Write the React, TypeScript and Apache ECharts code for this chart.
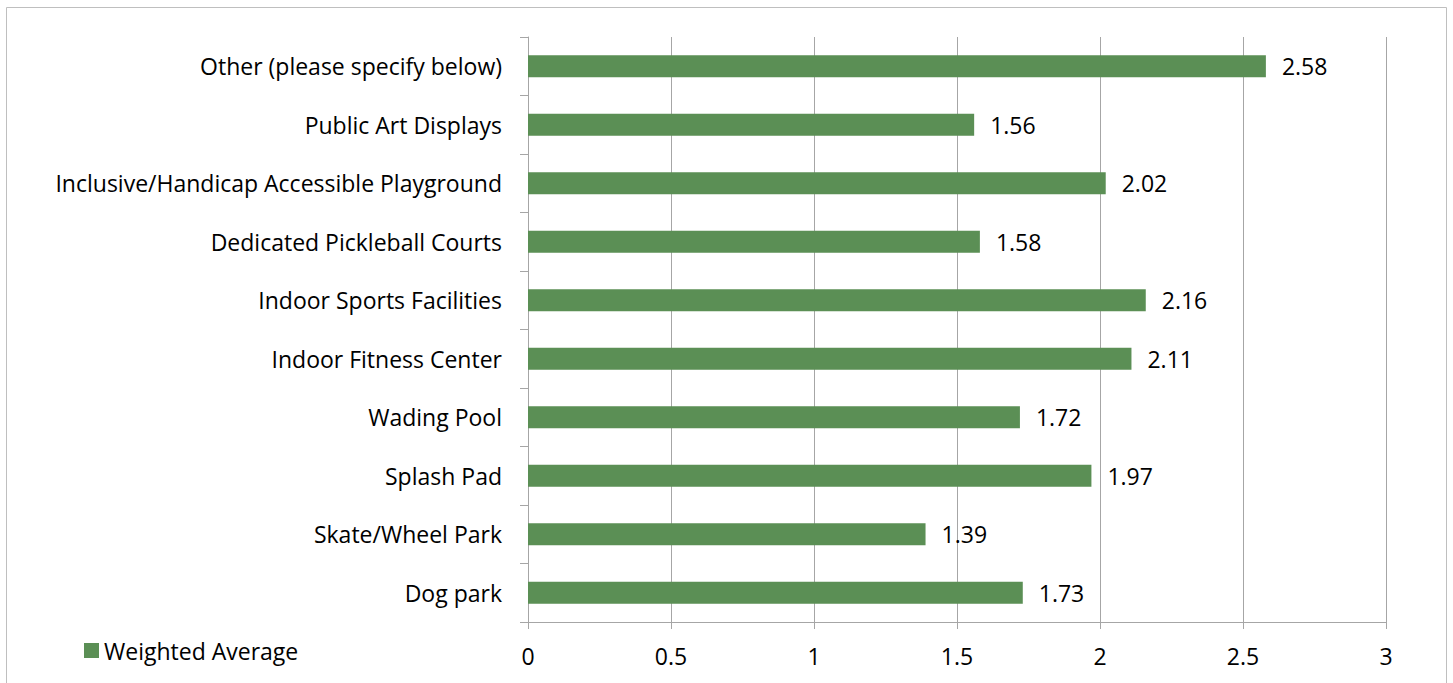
import React, { useEffect, useRef } from "react";
import * as echarts from "echarts";

const categories = [
  "Dog park",
  "Skate/Wheel Park",
  "Splash Pad",
  "Wading Pool",
  "Indoor Fitness Center",
  "Indoor Sports Facilities",
  "Dedicated Pickleball Courts",
  "Inclusive/Handicap Accessible Playground",
  "Public Art Displays",
  "Other (please specify below)",
];
const values = [1.73, 1.39, 1.97, 1.72, 2.11, 2.16, 1.58, 2.02, 1.56, 2.58];
const seriesName = "Weighted Average";

export default function App() {
  const ref = useRef<HTMLDivElement>(null);
  useEffect(() => {
    const chart = echarts.init(ref.current!, null, { renderer: "svg" });
    const font = "Open Sans";
    const fs = 23;
    chart.setOption({
      animation: false,
      backgroundColor: "#ffffff",
      textStyle: { fontFamily: font },
      graphic: [
        {
          type: "rect",
          shape: { x: 6.5, y: 7.5, width: 1440, height: 690 },
          style: { fill: "none", stroke: "#BFBFBF", lineWidth: 1 },
          silent: true,
        },
      ],
      legend: {
        left: 79,
        top: 634,
        itemWidth: 15,
        itemHeight: 15,
        itemGap: 8,
        icon: "rect",
        textStyle: { fontSize: fs, color: "#000", fontFamily: font },
        data: [seriesName],
      },
      grid: { left: 528, right: 67, top: 37, bottom: 61, containLabel: false },
      xAxis: {
        type: "value",
        min: 0,
        max: 3,
        interval: 0.5,
        axisLine: { show: true, lineStyle: { color: "#A6A6A6", width: 1 } },
        axisTick: { show: true, length: 7, lineStyle: { color: "#A6A6A6" } },
        splitLine: { show: true, lineStyle: { color: "#A6A6A6", width: 1 } },
        axisLabel: { fontSize: fs, color: "#000", margin: 22, fontFamily: font },
      },
      yAxis: {
        type: "category",
        data: categories,
        axisLine: { show: true, lineStyle: { color: "#A6A6A6", width: 1 } },
        axisTick: { show: true, length: 8, lineStyle: { color: "#A6A6A6" } },
        axisLabel: {
          fontSize: fs,
          color: "#000",
          margin: 26,
          fontFamily: font,
          padding: [0, 0, 3, 0],
        },
      },
      series: [
        {
          name: seriesName,
          type: "bar",
          data: values,
          barWidth: 22,
          itemStyle: { color: "#5B8F55" },
          label: {
            show: true,
            position: "right",
            distance: 16,
            fontSize: fs,
            color: "#000",
            fontFamily: font,
          },
        },
      ],
    });
    return () => chart.dispose();
  }, []);
  return (
    <div
      ref={ref}
      style={{ position: "fixed", left: 0, top: 0, width: 1453, height: 683 }}
    />
  );
}
